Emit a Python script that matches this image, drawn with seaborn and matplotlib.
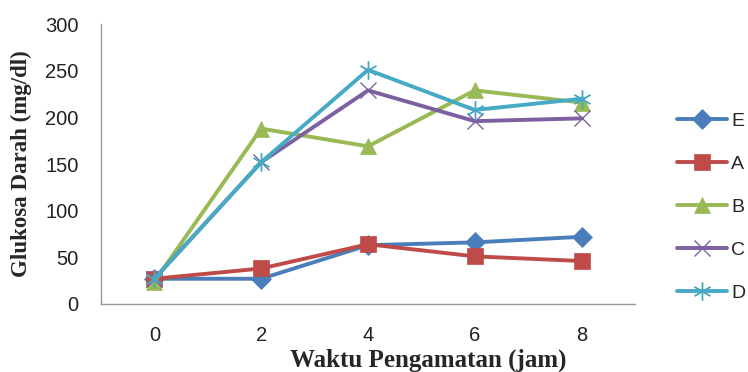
import matplotlib
matplotlib.use("Agg")
import matplotlib.pyplot as plt
import seaborn as sns
import pandas as pd

# Data
times = ["0", "2", "4", "6", "8"]
series_names = ["E", "A", "B", "C", "D"]
E = [27, 27, 63, 66, 72]
A = [27, 38, 64, 51, 46]
B = [24, 188, 169, 229, 216]
C = [27, 152, 229, 196, 199]
D = [27, 152, 251, 208, 220]
values = [E, A, B, C, D]
y_ticks = [0, 50, 100, 150, 200, 250, 300]

colors = {"E": "#4A7EBB", "A": "#BE4B48", "B": "#98B954", "C": "#7D60A0", "D": "#46AAC5"}
markers = {"E": "D", "A": "s", "B": "^", "C": "x", "D": (6, 2, 0)}

rows = []
for name, vals in zip(series_names, values):
    for i, (t, v) in enumerate(zip(times, vals)):
        rows.append({"pos": i, "time": t, "series": name, "value": v})
df = pd.DataFrame(rows)

sns.set_theme(style="white")
plt.rcParams["font.family"] = ["Liberation Sans", "DejaVu Sans"]

fig = plt.figure(figsize=(7.48, 3.72), dpi=100)
ax = fig.add_axes([0.135, 0.183, 0.714, 0.752])

sizes = {"E": 10, "A": 11.5, "B": 12, "C": 12, "D": 13}
for name in series_names:
    sub = df[df["series"] == name]
    sns.lineplot(data=sub, x="pos", y="value", ax=ax, color=colors[name],
                 marker=markers[name], markersize=sizes[name], linewidth=2.8,
                 markeredgewidth=1.0 if name in ("C", "D") else 0.5,
                 markeredgecolor=colors[name], label=name)

ax.set_xlim(-0.5, 4.5)
ax.set_ylim(0, 300)
ax.set_yticks(y_ticks)
ax.set_yticklabels([str(v) for v in y_ticks], fontsize=14.5, color="#222222")
ax.set_xticks(range(len(times)))
ax.set_xticklabels(times, fontsize=14.5, color="#222222")
ax.set_xticks([i - 0.5 for i in range(len(times) + 1)], minor=True)
ax.tick_params(axis="x", which="major", length=0, pad=16)
ax.tick_params(axis="x", which="minor", length=6, color="#888888", width=1, direction="out")
ax.tick_params(axis="y", which="major", length=6, color="#888888", width=1, direction="out", pad=10)
ax.grid(False)

for s in ["top", "right"]:
    ax.spines[s].set_visible(False)
for s in ["left", "bottom"]:
    ax.spines[s].set_color("#999999")
    ax.spines[s].set_linewidth(1.0)

ax.set_xlabel("Waktu Pengamatan (jam)", family=["Liberation Serif"], fontweight="bold",
              fontsize=18)
ax.xaxis.set_label_coords(0.612, -0.16)
ax.set_ylabel("Glukosa Darah (mg/dl)", family=["Liberation Serif"], fontweight="bold",
              fontsize=16.5)
ax.yaxis.set_label_coords(-0.129, 0.5)

leg = ax.legend(loc="upper left", bbox_to_anchor=(0.897, 0.713), bbox_transform=fig.transFigure,
                frameon=False, fontsize=14, handlelength=2.6, labelspacing=1.3,
                handletextpad=0.2, borderaxespad=0, borderpad=0.3)

fig.savefig("out.png", dpi=100)
